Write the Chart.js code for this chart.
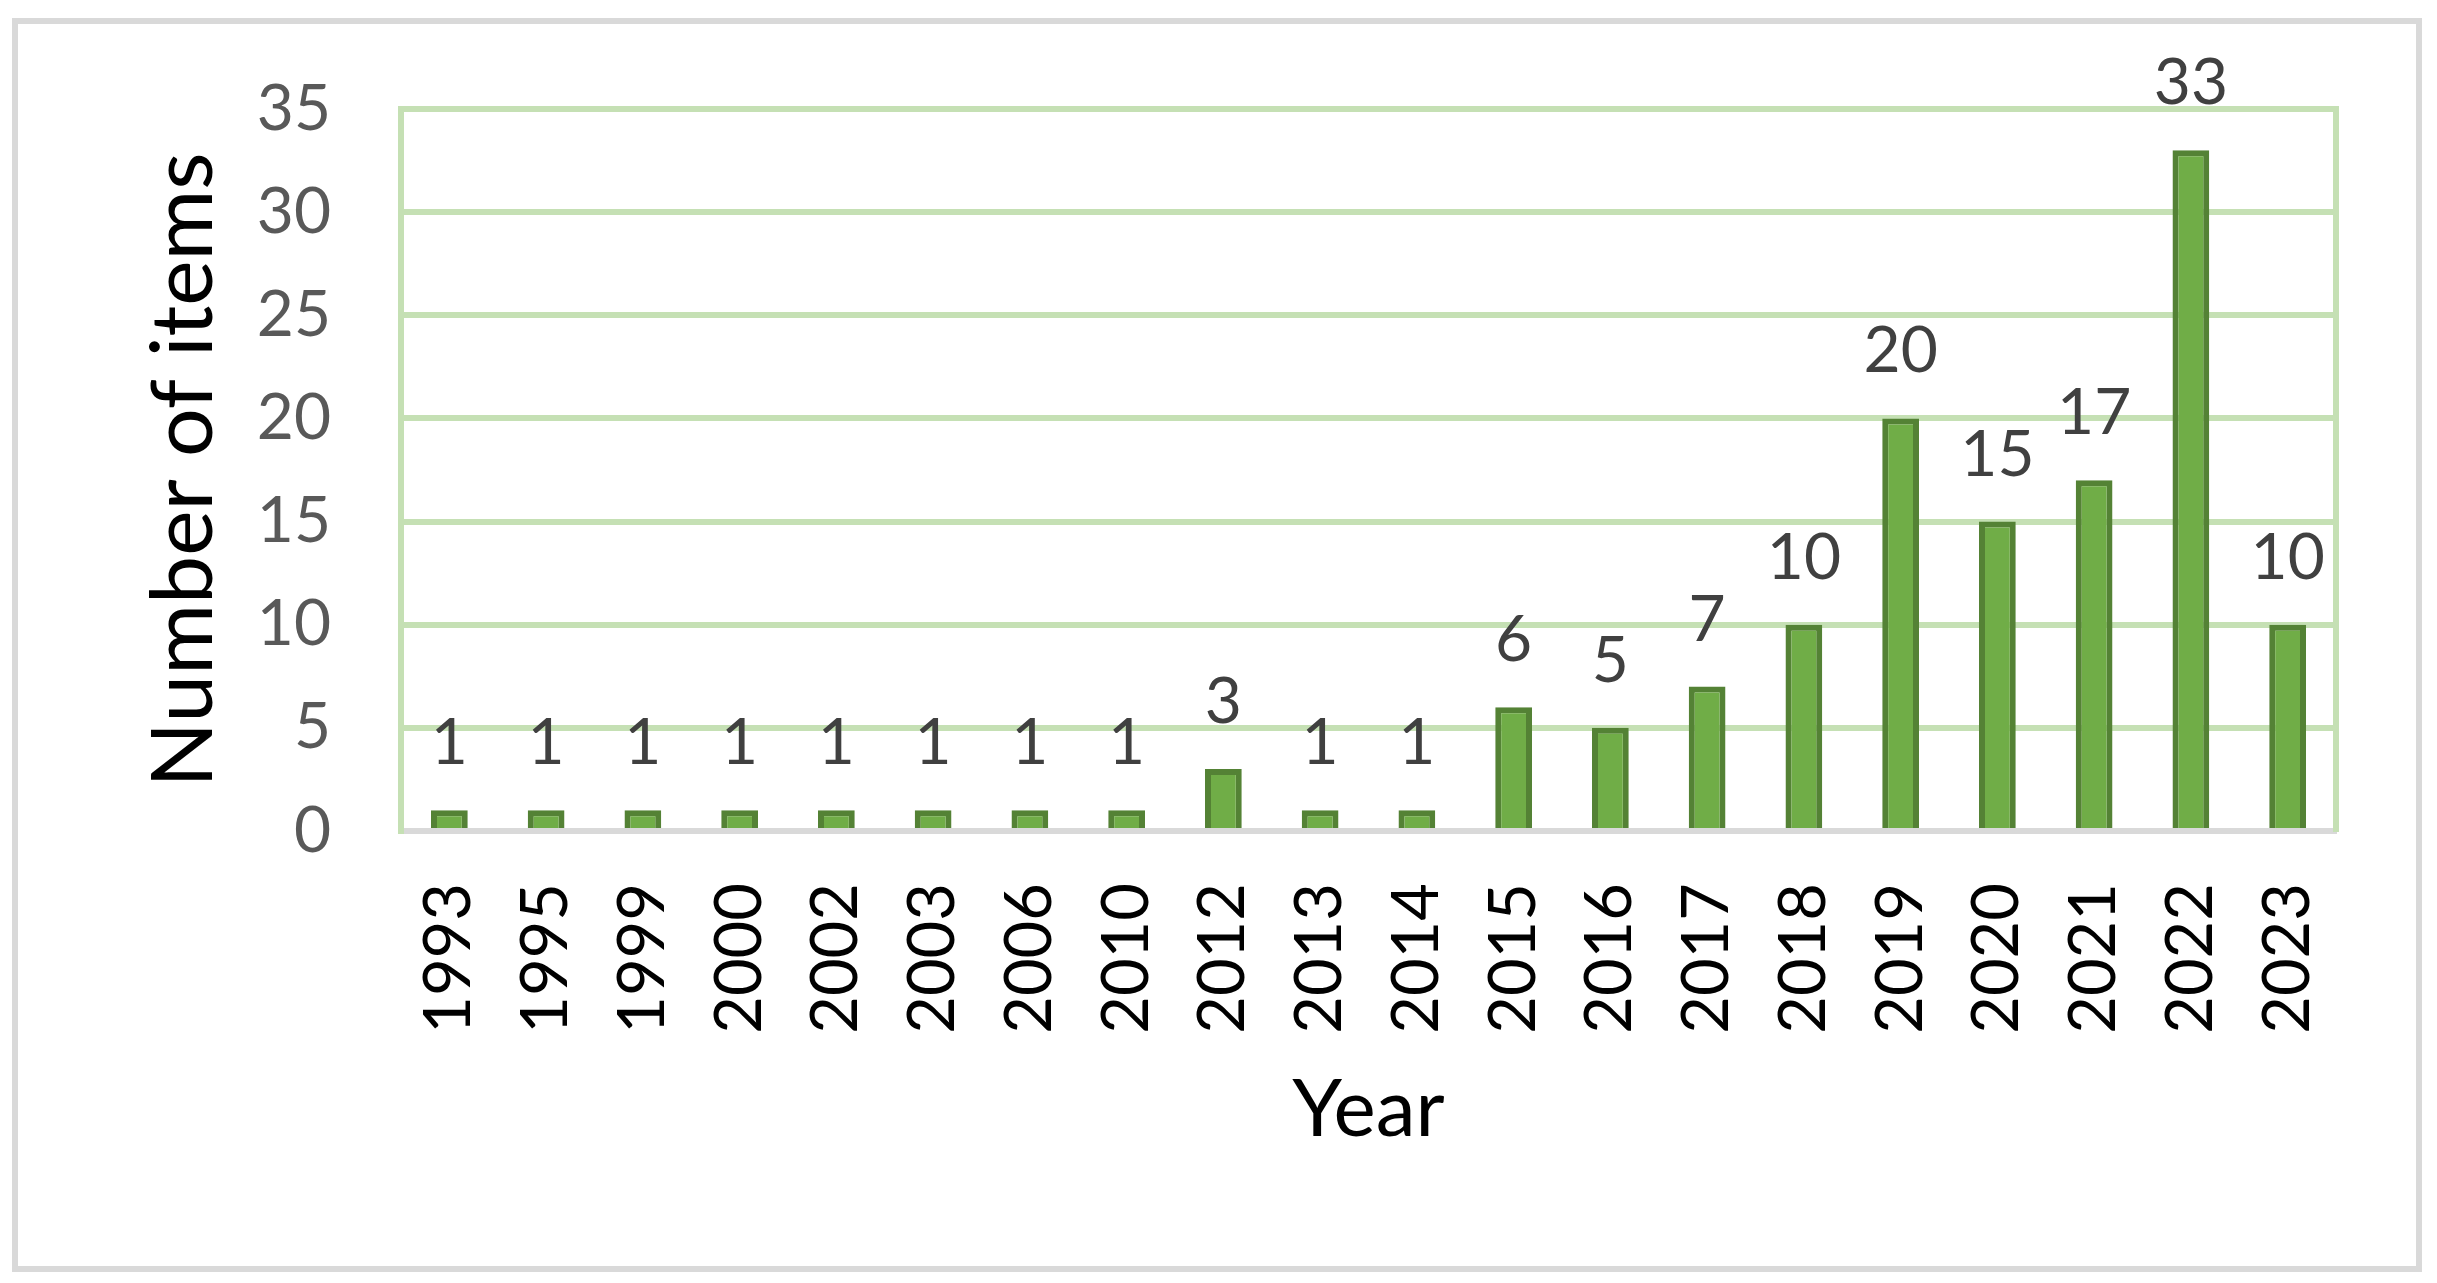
<!DOCTYPE html>
<html>
<head>
<meta charset="utf-8">
<script src="https://cdn.jsdelivr.net/npm/chart.js@4.4.0/dist/chart.umd.min.js"></script>
<style>
  html, body { margin: 0; padding: 0; background: #fff; }
  #wrap { position: relative; width: 2437px; height: 1283px; }
  #frame { position: absolute; left: 12px; top: 18px; width: 2410px; height: 1254px;
           border: 6px solid #d9d9d9; box-sizing: border-box; pointer-events: none; }
  canvas { position: absolute; left: 0; top: 0; }
</style>
</head>
<body>
<div id="wrap">
  <canvas id="chart" width="2437" height="1283"></canvas>
  <div id="frame"></div>
</div>
<script>
const years = ["1993", "1995", "1999", "2000", "2002", "2003", "2006", "2010", "2012", "2013",
               "2014", "2015", "2016", "2017", "2018", "2019", "2020", "2021", "2022", "2023"];
const items = [1, 1, 1, 1, 1, 1, 1, 1, 3, 1, 1, 6, 5, 7, 10, 20, 15, 17, 33, 10];
const yTicks = [0, 5, 10, 15, 20, 25, 30, 35];

const FONT = "Lato";
const GRID_GREEN = "#c5e0b4";

// value labels above each bar, placed from the bar elements
const barLabels = {
  id: "barLabels",
  afterDatasetsDraw(chart) {
    const ctx = chart.ctx;
    const meta = chart.getDatasetMeta(0);
    ctx.save();
    ctx.font = "64px " + FONT;
    ctx.fillStyle = "#404040";
    ctx.textAlign = "center";
    ctx.textBaseline = "alphabetic";
    meta.data.forEach((bar, i) => {
      ctx.fillText(String(items[i]), bar.x, bar.y - 46);
    });
    ctx.restore();
  }
};

new Chart(document.getElementById("chart"), {
  type: "bar",
  data: {
    labels: years,
    datasets: [{
      label: "Number of items",
      data: items,
      backgroundColor: "#70ad47",
      borderColor: "#548235",
      borderWidth: 6,
      barPercentage: 0.38,
      categoryPercentage: 1.0
    }]
  },
  options: {
    responsive: false,
    animation: false,
    devicePixelRatio: 1,
    layout: {
      padding: { left: 133, right: 101, top: 109, bottom: 125 }
    },
    plugins: {
      legend: { display: false },
      tooltip: { enabled: false }
    },
    scales: {
      x: {
        z: 1,
        grid: { display: false, drawTicks: false },
        border: { display: true, color: "#d9d9d9", width: 6 },
        ticks: {
          color: "#000000",
          font: { family: FONT, size: 65 },
          minRotation: 90,
          maxRotation: 90,
          padding: 52,
          autoSkip: false
        },
        title: {
          display: true,
          text: "Year",
          color: "#000000",
          font: { family: FONT, size: 80 },
          padding: 0
        },
        afterFit(scale) {
          scale.height = 1158 - 831;
        }
      },
      y: {
        min: 0,
        max: 35,
        afterBuildTicks(scale) {
          scale.ticks = yTicks.map(v => ({ value: v }));
        },
        grid: { color: GRID_GREEN, lineWidth: 6, drawTicks: false },
        border: { display: true, color: GRID_GREEN, width: 6 },
        ticks: {
          color: "#595959",
          font: { family: FONT, size: 64 },
          padding: 70
        },
        title: {
          display: true,
          text: "Number of items",
          color: "#000000",
          font: { family: FONT, size: 86 },
          padding: 0
        },
        afterFit(scale) {
          scale.width = 401 - 133;
        }
      },
      y2: {
        position: "right",
        min: 0,
        max: 35,
        grid: { display: false, drawTicks: false },
        border: { display: true, color: GRID_GREEN, width: 6 },
        ticks: { display: false },
        afterFit(scale) {
          scale.width = 0;
        }
      }
    }
  },
  plugins: [barLabels]
});
</script>
</body>
</html>
